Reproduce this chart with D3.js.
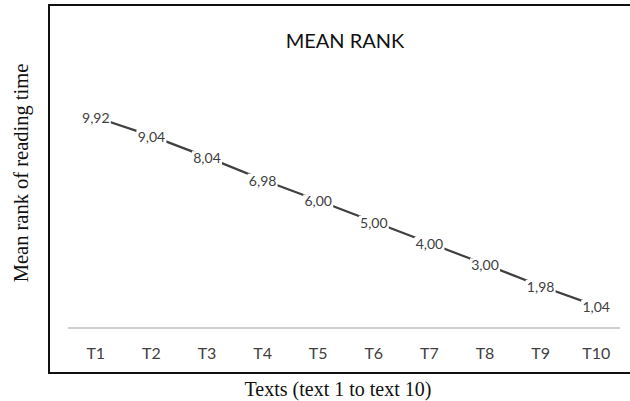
<!DOCTYPE html>
<meta charset="utf-8">
<style>
body { margin: 0; background: #fff; }
.frame { fill: none; stroke: #111; stroke-width: 2px; }
.line { fill: none; stroke: #404040; stroke-width: 2.2px; }
.lbl { font-family: Lato, "Open Sans", sans-serif; font-size: 14px; fill: #404040; }
.cat { font-family: Lato, "Open Sans", sans-serif; font-size: 16px; fill: #404040; }
</style>
<body></body>
<script src="https://cdn.jsdelivr.net/npm/d3@7"></script>
<script>
// chart data
var categories = ["T1", "T2", "T3", "T4", "T5", "T6", "T7", "T8", "T9", "T10"];
var meanRank = [9.92, 9.04, 8.04, 6.98, 6.00, 5.00, 4.00, 3.00, 1.98, 1.04];
var chartTitle = "MEAN RANK";
var yTitle = "Mean rank of reading time";
var xTitle = "Texts (text 1 to text 10)";

var W = 630, H = 401;
var plot = {left: 68, right: 624, top: 73, bottom: 328};

var svg = d3.select("body").append("svg")
    .attr("width", W).attr("height", H);

// outer frame (right side runs off the picture)
svg.append("path")
    .attr("class", "frame")
    .attr("d", "M" + (W + 5) + ",5 H49 V373 H" + (W + 5));

var x = d3.scaleBand().domain(categories).range([plot.left, plot.right]);
var y = d3.scaleLinear().domain([0, 12]).range([plot.bottom, plot.top]);

// baseline
svg.append("line")
    .attr("x1", plot.left).attr("x2", plot.right - 4)
    .attr("y1", y(0)).attr("y2", y(0))
    .attr("stroke", "#bfbfbf").attr("stroke-width", 1.3);

// category axis labels
svg.selectAll(".cat").data(categories).enter().append("text")
    .attr("class", "cat")
    .attr("x", function(d) { return x(d) + x.bandwidth() / 2; })
    .attr("y", 359)
    .attr("text-anchor", "middle")
    .text(function(d) { return d; });

var pts = categories.map(function(c, i) { return {cat: c, v: meanRank[i]}; });

var valueline = d3.line()
    .x(function(d) { return x(d.cat) + x.bandwidth() / 2; })
    .y(function(d) { return y(d.v); });

svg.append("path").datum(pts).attr("class", "line").attr("d", valueline);

// data labels with white box behind
var fmt = function(v) { return v.toFixed(2).replace(".", ","); };
var lab = svg.selectAll(".lab").data(pts).enter().append("g")
    .attr("transform", function(d) {
        return "translate(" + (x(d.cat) + x.bandwidth() / 2) + "," + (y(d.v) + 1) + ")";
    });
lab.append("rect")
    .attr("x", -15).attr("y", -7).attr("width", 30).attr("height", 14)
    .attr("fill", "#fff");
lab.append("text")
    .attr("class", "lbl")
    .attr("text-anchor", "middle")
    .attr("dy", "0.35em")
    .text(function(d) { return fmt(d.v); });

// titles
svg.append("text")
    .attr("x", 345).attr("y", 48)
    .attr("text-anchor", "middle")
    .style("font-family", "Lato, 'Open Sans', sans-serif")
    .style("font-size", "20px")
    .style("fill", "#111")
    .text(chartTitle);

svg.append("text")
    .attr("transform", "translate(28,173) rotate(-90)")
    .attr("text-anchor", "middle")
    .style("font-family", "'Liberation Serif', 'DejaVu Serif', serif")
    .style("font-size", "20.5px")
    .style("fill", "#111")
    .text(yTitle);

svg.append("text")
    .attr("x", 338).attr("y", 396)
    .attr("text-anchor", "middle")
    .style("font-family", "'Liberation Serif', 'DejaVu Serif', serif")
    .style("font-size", "20px")
    .style("fill", "#111")
    .text(xTitle);
</script>
